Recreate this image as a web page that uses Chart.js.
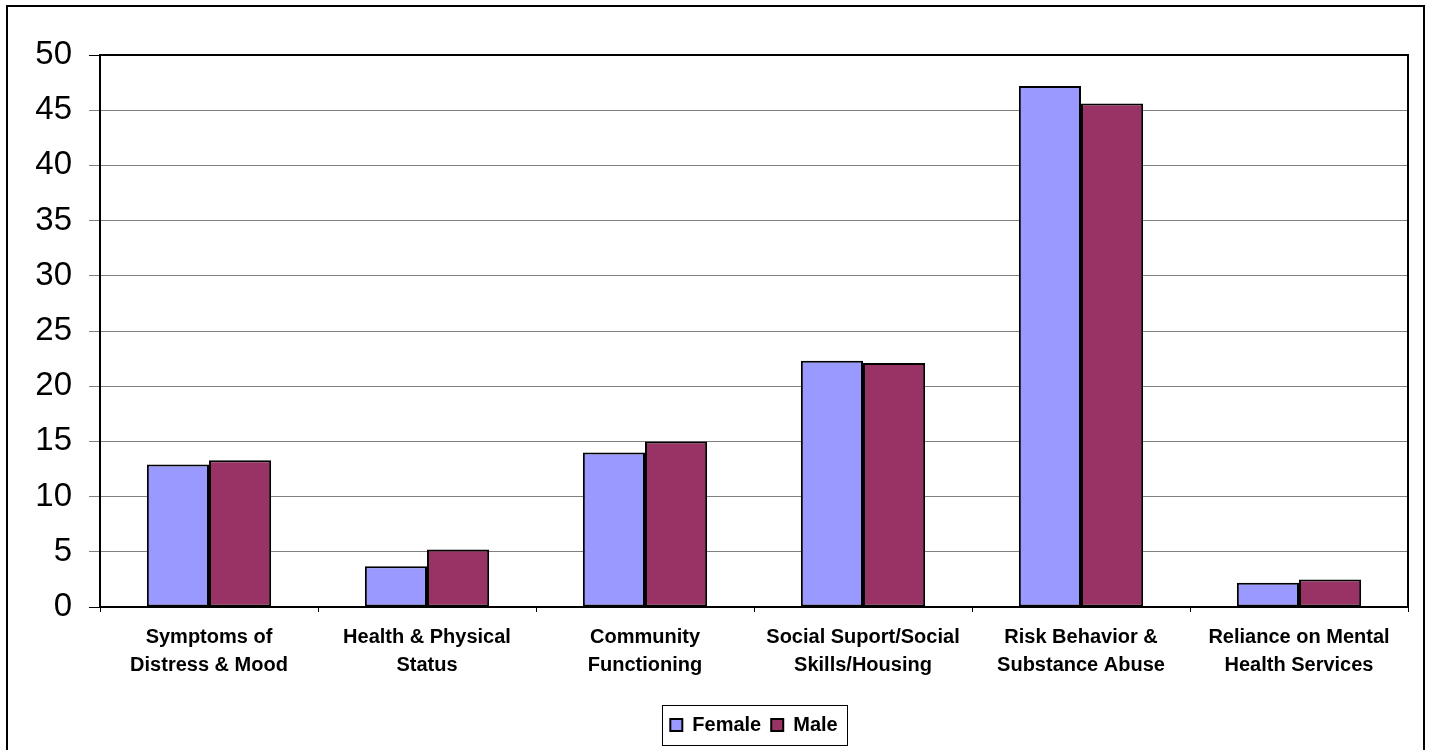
<!DOCTYPE html>
<html>
<head>
<meta charset="utf-8">
<title>Domain scores by gender</title>
<script src="https://cdn.jsdelivr.net/npm/chart.js@4/dist/chart.umd.min.js"></script>
<style>
  html, body { margin: 0; padding: 0; background: #fff; overflow: hidden; }
  #wrap { position: relative; width: 1430px; height: 750px; }
  #frame {
    position: absolute; left: 6px; top: 5px; width: 1415px; height: 800px;
    border: 2px solid #000; pointer-events: none;
  }
</style>
</head>
<body>
<div id="wrap">
  <canvas id="domainChart" width="1430" height="750"></canvas>
  <div id="frame"></div>
</div>
<script>
// chart data
const categories = [
  ["Symptoms of", "Distress & Mood"],
  ["Health & Physical", "Status"],
  ["Community", "Functioning"],
  ["Social Suport/Social", "Skills/Housing"],
  ["Risk Behavior &", "Substance Abuse"],
  ["Reliance on Mental", "Health Services"]
];
const femaleValues = [12.9, 3.7, 14.0, 22.3, 47.2, 2.2];
const maleValues = [13.3, 5.2, 15.0, 22.1, 45.6, 2.5];
const yTicks = [0, 5, 10, 15, 20, 25, 30, 35, 40, 45, 50];

const fontFamily = "'Liberation Sans', Arial, sans-serif";

// black frame round the plot area and round the legend
const framePlugin = {
  id: "frames",
  afterDraw(chart) {
    const ctx = chart.ctx;
    const a = chart.chartArea;
    ctx.save();
    ctx.strokeStyle = "#000";
    ctx.lineWidth = 2;
    ctx.strokeRect(a.left, a.top, a.right - a.left, a.bottom - a.top);

    const boxes = chart.legend.legendHitBoxes;
    if (boxes && boxes.length) {
      const left = Math.min(...boxes.map(b => b.left)) - 8;
      const right = Math.max(...boxes.map(b => b.left + b.width)) + 10;
      const top = Math.min(...boxes.map(b => b.top)) - 10;
      const bottom = Math.max(...boxes.map(b => b.top + b.height)) + 10;
      ctx.lineWidth = 1;
      ctx.strokeRect(Math.round(left) + 0.5, Math.round(top) + 0.5, Math.round(right - left), Math.round(bottom - top));
    }
    ctx.restore();
  }
};

const ctx = document.getElementById("domainChart").getContext("2d");

new Chart(ctx, {
  type: "bar",
  data: {
    labels: categories,
    datasets: [
      {
        label: "Female",
        data: femaleValues,
        backgroundColor: "#9999FF",
        borderColor: "#000",
        borderWidth: 2,
        borderSkipped: false
      },
      {
        label: "Male",
        data: maleValues,
        backgroundColor: "#993366",
        borderColor: "#000",
        borderWidth: 2,
        borderSkipped: false
      }
    ]
  },
  options: {
    responsive: false,
    animation: false,
    devicePixelRatio: 1,
    layout: { padding: { top: 55, right: 22, bottom: 5, left: 0 } },
    datasets: {
      bar: { categoryPercentage: 0.57, barPercentage: 1.0 }
    },
    plugins: {
      tooltip: { enabled: false },
      legend: {
        position: "bottom",
        fullSize: false,
        labels: {
          color: "#000",
          font: { family: fontFamily, size: 20, weight: "bold" },
          boxWidth: 12,
          boxHeight: 12,
          padding: 10
        }
      }
    },
    scales: {
      x: {
        afterFit(scale) { scale.height = 98; },
        border: { display: false },
        grid: {
          display: true,
          offset: true,
          drawOnChartArea: false,
          drawTicks: true,
          tickLength: 5,
          color: "#000",
          lineWidth: 1
        },
        ticks: {
          color: "#000",
          padding: 11,
          maxRotation: 0,
          autoSkip: false,
          font: { family: fontFamily, size: 20, weight: "bold", lineHeight: 1.4 }
        }
      },
      y: {
        min: 0,
        max: 50,
        afterFit(scale) { scale.width = 100; },
        afterBuildTicks(scale) { scale.ticks = yTicks.map(v => ({ value: v })); },
        border: { display: false },
        grid: {
          color: ctx => (ctx.tick && (ctx.tick.value === 0 || ctx.tick.value === 50)) ? "#000" : "#808080",
          lineWidth: 1,
          drawTicks: true,
          tickLength: 11
        },
        ticks: {
          color: "#000",
          padding: 17,
          font: { family: fontFamily, size: 33 }
        }
      }
    }
  },
  plugins: [framePlugin]
});
</script>
</body>
</html>
